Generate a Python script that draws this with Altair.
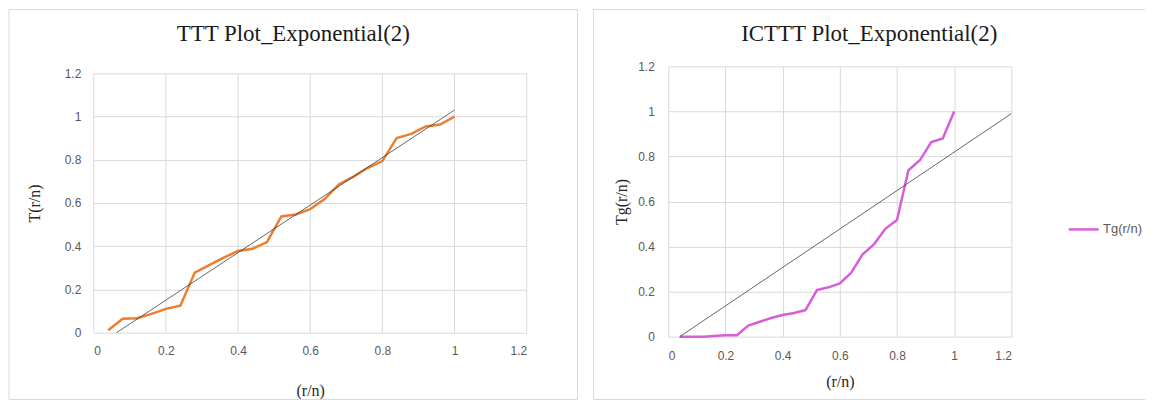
import altair as alt
import pandas as pd

# ---- data ----
rn = [0.04, 0.08, 0.12, 0.16, 0.20, 0.24, 0.28, 0.32, 0.36, 0.40, 0.44, 0.48, 0.52,
      0.56, 0.60, 0.64, 0.68, 0.72, 0.76, 0.80, 0.84, 0.88, 0.92, 0.96, 1.00]
ttt = [0.011, 0.064, 0.067, 0.087, 0.110, 0.125, 0.278, 0.313, 0.347, 0.378, 0.388, 0.419, 0.538,
       0.547, 0.572, 0.618, 0.687, 0.722, 0.763, 0.794, 0.901, 0.920, 0.954, 0.963, 1.000]
tg = [0.000, 0.000, 0.000, 0.003, 0.006, 0.006, 0.049, 0.066, 0.083, 0.096, 0.105, 0.118, 0.207,
      0.219, 0.236, 0.284, 0.366, 0.411, 0.480, 0.518, 0.739, 0.783, 0.864, 0.880, 1.000]
ttt_ref_x = [0.063, 1.0]
ttt_ref_y = [0.0, 1.03]
tg_ref_x = [0.04, 1.2]
tg_ref_y = [0.0, 0.99]
ticks = [0, 0.2, 0.4, 0.6, 0.8, 1, 1.2]
series_name = "Tg(r/n)"

ORANGE = "#ED7D31"
MAGENTA = "#D65FD9"
GRID = "#d9d9d9"
LABEL_FONT = "Liberation Sans"
SERIF = "Liberation Serif"

df_ttt = pd.DataFrame({"x": rn, "y": ttt})
df_tg = pd.DataFrame({"x": rn, "y": tg, "s": [series_name] * len(rn)})
df_ttt_ref = pd.DataFrame({"x": ttt_ref_x, "y": ttt_ref_y})
df_tg_ref = pd.DataFrame({"x": tg_ref_x, "y": tg_ref_y})
df_grid = pd.DataFrame({"x": ticks, "y0": [ticks[0]] * len(ticks), "y1": [ticks[-1]] * len(ticks)})
one = pd.DataFrame({"a": [0]})

H = 271  # common group height for both panels

def xscale():
    return alt.Scale(domain=[0, 1.2], nice=False, zero=True)

def yscale(bottom, top):
    return alt.Scale(domain=[0, 1.2], nice=False, zero=True, range=[bottom, top])

def xaxis(lp, tp, grid=True):
    return alt.Axis(values=ticks, format="~g", title="(r/n)", grid=grid, domain=False,
                    ticks=False, labelPadding=lp, titlePadding=tp)

def yaxis(title, lp, tp):
    return alt.Axis(values=ticks, format="~g", title=title, grid=True, domain=False,
                    ticks=False, labelPadding=lp, titlePadding=tp)

def title(text):
    return alt.TitleParams(text=text, font=SERIF, fontSize=23, fontWeight="normal",
                           color="#1a1a1a", anchor="middle", frame="bounds", offset=-37)

# ---- left chart ----
W1 = 434
frame1 = alt.Chart(one).mark_rect(filled=False, stroke=GRID, strokeWidth=1).encode(
    x=alt.value(-85), x2=alt.value(485), y=alt.value(-57), y2=alt.value(334))
vgrid1 = alt.Chart(df_grid).mark_rule(color=GRID, strokeWidth=1).encode(
    x=alt.X("x:Q", scale=xscale()),
    y=alt.Y("y0:Q", scale=yscale(267, 7)), y2="y1:Q")
line1 = alt.Chart(df_ttt).mark_line(color=ORANGE, strokeWidth=2.5).encode(
    x=alt.X("x:Q", scale=xscale(), axis=xaxis(9, 26, grid=False)),
    y=alt.Y("y:Q", scale=yscale(267, 7), axis=yaxis("T(r/n)", 13, 22)))
ref1 = alt.Chart(df_ttt_ref).mark_line(color="#404040", strokeWidth=0.8).encode(
    x=alt.X("x:Q", scale=xscale()), y=alt.Y("y:Q", scale=yscale(267, 7)))
left = alt.layer(frame1, vgrid1, line1, ref1).properties(
    width=W1, height=H, title=title("TTT Plot_Exponential(2)"))

# ---- right chart ----
W2 = 344
edge_l = alt.Chart(one).mark_rule(color=GRID, strokeWidth=1).encode(
    x=alt.value(-75), y=alt.value(-57), y2=alt.value(334))
edge_t = alt.Chart(one).mark_rule(color=GRID, strokeWidth=1).encode(
    x=alt.value(-75), x2=alt.value(478), y=alt.value(-57))
edge_b = alt.Chart(one).mark_rule(color=GRID, strokeWidth=1).encode(
    x=alt.value(-75), x2=alt.value(478), y=alt.value(334))
line2 = alt.Chart(df_tg).mark_line(strokeWidth=2.5).encode(
    x=alt.X("x:Q", scale=xscale(), axis=xaxis(14, 12)),
    y=alt.Y("y:Q", scale=yscale(H, 0), axis=yaxis("Tg(r/n)", 14, 8)),
    color=alt.Color("s:N", scale=alt.Scale(domain=[series_name], range=[MAGENTA]),
                    legend=alt.Legend(title=None, orient="none", legendX=400, legendY=147,
                                      symbolType="stroke", symbolSize=900,
                                      symbolStrokeWidth=2.5, padding=0,
                                      labelFont=LABEL_FONT, labelFontSize=13,
                                      labelColor="#595959", labelOffset=3)))
ref2 = alt.Chart(df_tg_ref).mark_line(color="#404040", strokeWidth=0.8).encode(
    x=alt.X("x:Q", scale=xscale()), y=alt.Y("y:Q", scale=yscale(H, 0)))
right = alt.layer(edge_l, edge_t, edge_b, line2, ref2).properties(
    width=W2, height=H, title=title("ICTTT Plot_Exponential(2)"))

chart = alt.concat(left, right, columns=2, spacing=14, align="none").resolve_legend(
    color="independent"
).resolve_scale(color="independent").properties(
    padding=0, background="white"
).configure_view(stroke=None).configure_axis(
    gridColor=GRID, gridWidth=1,
    labelFont=LABEL_FONT, labelFontSize=12, labelColor="#595959",
    titleFont=SERIF, titleFontSize=16, titleFontWeight="normal", titleColor="#262626"
)

chart.save("out.html", embed_options={"renderer": "svg", "actions": False})
